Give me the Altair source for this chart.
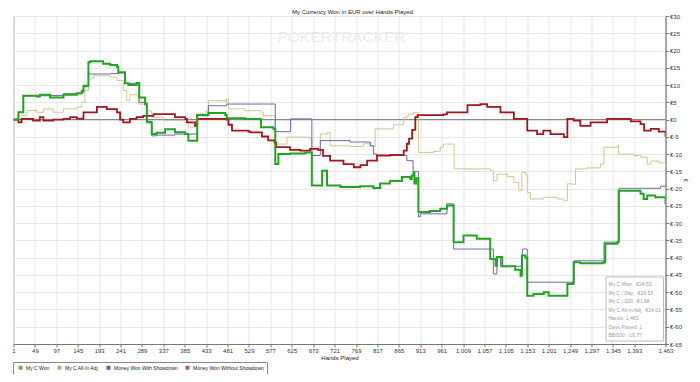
import altair as alt
import pandas as pd

FONT = "Liberation Sans"
TITLE = "My Currency Won in EUR over Hands Played"

series_names = ["My C Won", "My C All-In Adj", "Money Won With Showdown", "Money Won Without Showdown"]

# (hand, value in EUR)
won_points = [(1, 0), (12, 2.1), (23, 6.9), (53, 6.7), (60, 7.2), (83, 6.4), (113, 7.2), (143, 7.6),
              (154, 8.3), (158, 9.8), (169, 16.6), (173, 16.9), (202, 16.2), (218, 15.8), (233, 15.3),
              (236, 13.7), (251, 10.5), (259, 10.0), (277, 10.6), (283, 6.4), (296, 4.5), (300, -0.8),
              (311, -4.2), (322, -3.8), (341, -2.8), (363, -3.7), (386, -4.2), (393, -6.1), (412, -6.1),
              (413, 1.3), (438, 1.9), (476, 1.3), (479, 0.4), (520, 0.2), (554, 0.0), (556, -2.2),
              (584, -2.7), (588, -12.9), (595, -10.0), (621, -9.8), (655, -9.5), (670, -19.1),
              (693, -14.8), (704, -19.1), (734, -19.5), (778, -19.3), (808, -19.8), (823, -18.5),
              (845, -17.8), (872, -16.6), (891, -17.2), (894, -16.2), (898, -15.3), (900, -18.5),
              (904, -17.0), (909, -26.8), (935, -26.5), (958, -25.8), (973, -24.9), (988, -35.5),
              (1010, -33.6), (1040, -34.5), (1070, -40.4), (1082, -42.3), (1085, -39.8), (1097, -42.5),
              (1126, -43.5), (1138, -45.2), (1141, -39.4), (1149, -40.0), (1153, -51.0), (1167, -50.5),
              (1190, -50.0), (1201, -51.0), (1235, -51.0), (1243, -47.6), (1257, -41.3), (1272, -41.6),
              (1324, -41.3), (1328, -36.0), (1355, -35.5), (1358, -20.6), (1392, -20.6), (1407, -21.5),
              (1414, -23.0), (1422, -22.0), (1440, -22.5), (1463, -24.5)]

allin_points = [(1, 0), (12, 1.1), (31, 2.6), (53, 2.1), (68, 3.1), (90, 2.1), (113, 3.1), (143, 3.6),
                (154, 5.0), (161, 8.4), (169, 11.8), (180, 12.7), (218, 12.3), (233, 11.3), (247, 8.4),
                (255, 5.5), (262, 7.2), (277, 7.2), (281, 4.5), (296, 4.0), (300, 2.5), (311, 0.7),
                (337, -0.3), (363, -0.3), (386, -0.8), (393, -2.2), (408, -2.0), (412, 1.6), (431, 2.5),
                (438, 5.5), (476, 5.0), (479, 6.0), (483, 3.1), (520, 2.6), (554, 2.2), (561, 1.1),
                (584, 1.1), (588, -7.1), (599, -7.1), (614, -5.1), (666, -5.5), (670, -8.0), (689, -4.2),
                (704, -3.7), (711, -7.6), (756, -7.8), (786, -7.0), (801, -7.8), (812, -2.7), (853, -1.5),
                (876, 0.7), (886, 1.6), (898, 2.1), (905, 2.1), (909, -9.5), (943, -9.2), (958, -8.0),
                (965, -7.1), (988, -7.1), (989, -14.3), (1048, -14.3), (1070, -14.8), (1077, -17.7),
                (1085, -15.8), (1108, -16.5), (1123, -18.2), (1134, -20.6), (1141, -15.3), (1149, -16.0),
                (1153, -21.1), (1160, -23.0), (1190, -22.5), (1220, -23.0), (1235, -23.5), (1243, -18.6),
                (1257, -18.8), (1261, -14.3), (1287, -14.0), (1317, -12.9), (1325, -8.0), (1355, -7.6),
                (1358, -10.0), (1392, -10.4), (1407, -10.9), (1422, -12.9), (1430, -12.0), (1448, -12.5),
                (1463, -14.0)]

showdown_points = [(1, 0), (12, 2.1), (23, 6.9), (83, 7.0), (113, 7.5), (143, 7.5), (154, 7.8), (158, 9.5),
                   (169, 13.2), (218, 13.3), (236, 13.5), (251, 10.5), (277, 10.0), (283, 5.0), (300, -0.5),
                   (311, -4.7), (322, -4.5), (352, -4.5), (363, -4.2), (412, -4.2), (413, 1.1), (438, 4.0),
                   (479, 4.5), (588, -3.5), (622, 0.2), (670, -10.4), (689, -6.1), (756, -6.5), (801, -7.5),
                   (808, -10.0), (816, -10.4), (874, -10.4), (883, -11.9), (897, -15.0), (909, -28.2),
                   (913, -27.3), (958, -27.3), (973, -24.4), (988, -37.5), (1070, -37.5), (1077, -44.7),
                   (1085, -39.7), (1093, -42.5), (1142, -37.5), (1153, -47.1), (1258, -40.9), (1325, -35.5),
                   (1359, -19.9), (1430, -19.9), (1452, -19.3), (1463, -19.0)]

no_showdown_points = [(1, 0), (12, -0.8), (19, 0.2), (38, 0.2), (45, -0.3), (60, 0.7), (68, -0.3), (90, 0.0),
                      (113, 0.2), (128, 0.7), (143, 0.3), (154, 0.2), (158, 2.1), (188, 3.7), (210, 3.0),
                      (233, 2.1), (240, 0.0), (247, -0.8), (262, 0.2), (277, 0.7), (292, 1.1), (315, 1.6),
                      (341, 1.6), (363, 0.7), (386, 0.2), (390, -0.8), (408, -1.8), (413, 0.2), (479, 0.0),
                      (483, -1.5), (491, -3.2), (528, -3.5), (532, -3.7), (558, -4.9), (572, -6.0),
                      (586, -6.6), (590, -8.0), (621, -8.8), (644, -9.0), (666, -8.5), (684, -8.8),
                      (695, -10.5), (711, -11.9), (741, -12.9), (764, -13.8), (779, -13.2), (794, -11.9),
                      (816, -10.4), (846, -10.2), (876, -9.0), (883, -7.0), (888, -5.5), (895, -3.0),
                      (902, 0.7), (907, 1.3), (935, 1.3), (965, 1.5), (973, 2.1), (1018, 2.1), (1019, 4.2),
                      (1048, 4.5), (1063, 3.7), (1093, 2.1), (1123, 0.2), (1153, -3.2), (1175, -4.2),
                      (1189, -3.2), (1205, -4.2), (1235, -5.1), (1243, 0.2), (1257, -0.3), (1272, -1.8),
                      (1295, -0.8), (1332, 0.2), (1362, 0.2), (1385, -0.5), (1407, -1.3), (1415, -3.2),
                      (1430, -2.7), (1448, -3.5), (1463, -5.0)]

x_ticks = [1, 49, 97, 145, 193, 241, 289, 337, 385, 433, 481, 529, 577, 625, 673, 721, 769, 817, 865,
           913, 961, 1009, 1057, 1105, 1153, 1201, 1249, 1297, 1345, 1393, 1463]
y_ticks = list(range(-65, 31, 5))

info_lines = ["My C Won: -€24.53", "My C / Day: -€24.53", "My C / 100: -€1.68",
              "My C All-In Adj: -€14.01", "Hands: 1,463", "Days Played: 1", "BB/100: -16.77"]

line_colors = ["#22a322", "#cdc88c", "#6a6ab0", "#a3161c"]
line_widths = [2.0, 1.0, 1.0, 1.8]
legend_colors = ["#2e8b2e", "#8f8f45", "#1d1d7a", "#8a1c2a"]

W, H = 652, 328


def frame(points, name):
    return pd.DataFrame(points, columns=["hand", "value"]).assign(series=name)


x_scale = alt.Scale(domain=[1, 1463], nice=False, zero=False)
y_scale = alt.Scale(domain=[-65, 30], nice=False, zero=False)

x_axis = alt.Axis(values=x_ticks, format=",d", title="Hands Played", labelOverlap=False,
                  labelFlush=False, tickSize=3, labelPadding=0, titlePadding=1)
y_axis = alt.Axis(orient="right", values=y_ticks, labelExpr="'€' + datum.value", title="€",
                  titleAngle=90, titlePadding=1, tickSize=3, labelPadding=1, labelOverlap=False,
                  labelFlush=False)

x_enc = alt.X("hand:Q", scale=x_scale, axis=x_axis)
y_enc = alt.Y("value:Q", scale=y_scale, axis=y_axis)

frames = [frame(won_points, series_names[0]), frame(allin_points, series_names[1]),
          frame(showdown_points, series_names[2]), frame(no_showdown_points, series_names[3])]

watermark = alt.Chart(pd.DataFrame({"t": [1]})).mark_text(
    text="POKERTRACKER", font=FONT, fontSize=15.5, color="#ececec", align="center", baseline="middle"
).encode(x=alt.value(328), y=alt.value(21))

zero_rule = alt.Chart(pd.DataFrame({"value": [0]})).mark_rule(color="#7d7d7d", strokeWidth=1).encode(
    y=y_enc
)

legend_layer = alt.Chart(pd.concat(frames)).transform_filter("false").mark_square(filled=True).encode(
    x=x_enc, y=y_enc,
    color=alt.Color("series:N", scale=alt.Scale(domain=series_names, range=legend_colors),
                    legend=alt.Legend(orient="none", legendX=-0.5, legendY=346, direction="horizontal",
                                      columns=4, title=None, symbolType="square", symbolSize=16,
                                      symbolStrokeWidth=0, labelFont=FONT, labelFontSize=5,
                                      labelColor="#222", strokeColor="#8a8a8a", fillColor="white",
                                      padding=3, columnPadding=5, labelOffset=3, symbolOffset=2,
                                      labelLimit=200)),
)

order = [1, 2, 3, 0]
lines = [
    alt.Chart(frames[i]).mark_line(color=line_colors[i], strokeWidth=line_widths[i],
                                   interpolate="step-after", clip=True).encode(x=x_enc, y=y_enc)
    for i in order
]

info_box = alt.Chart(pd.DataFrame({"t": [1]})).mark_rect(
    fill="white", stroke="#bdbdbd", strokeWidth=1
).encode(x=alt.value(592.5), x2=alt.value(650), y=alt.value(261), y2=alt.value(325))

info_text = alt.Chart(pd.DataFrame({"t": [1]})).mark_text(
    text=info_lines, font=FONT, fontSize=5, color="#9a9a9a", align="left", baseline="top",
    lineHeight=8.5
).encode(x=alt.value(595), y=alt.value(266))

chart = alt.layer(zero_rule, watermark, legend_layer, *lines, info_box, info_text).properties(
    width=W, height=H,
    title=alt.TitleParams(TITLE, font=FONT, fontSize=6, fontWeight="normal", color="#222",
                          anchor="middle", dx=13, offset=-2),
    padding={"left": 5.5, "top": 8, "right": 26.5, "bottom": 30},
    autosize=alt.AutoSizeParams(type="none"),
).configure_axis(
    labelFont=FONT, labelFontSize=6, labelColor="#333", titleFont=FONT, titleFontSize=6,
    titleFontWeight="normal", titleColor="#222", gridColor="#e6e6e6", gridWidth=1,
    tickColor="#777", domainColor="#777", labelOverlap=False
).configure_view(stroke="#9a9a9a", strokeWidth=1)

chart.save("out.html", embed_options={"renderer": "svg", "actions": False})
